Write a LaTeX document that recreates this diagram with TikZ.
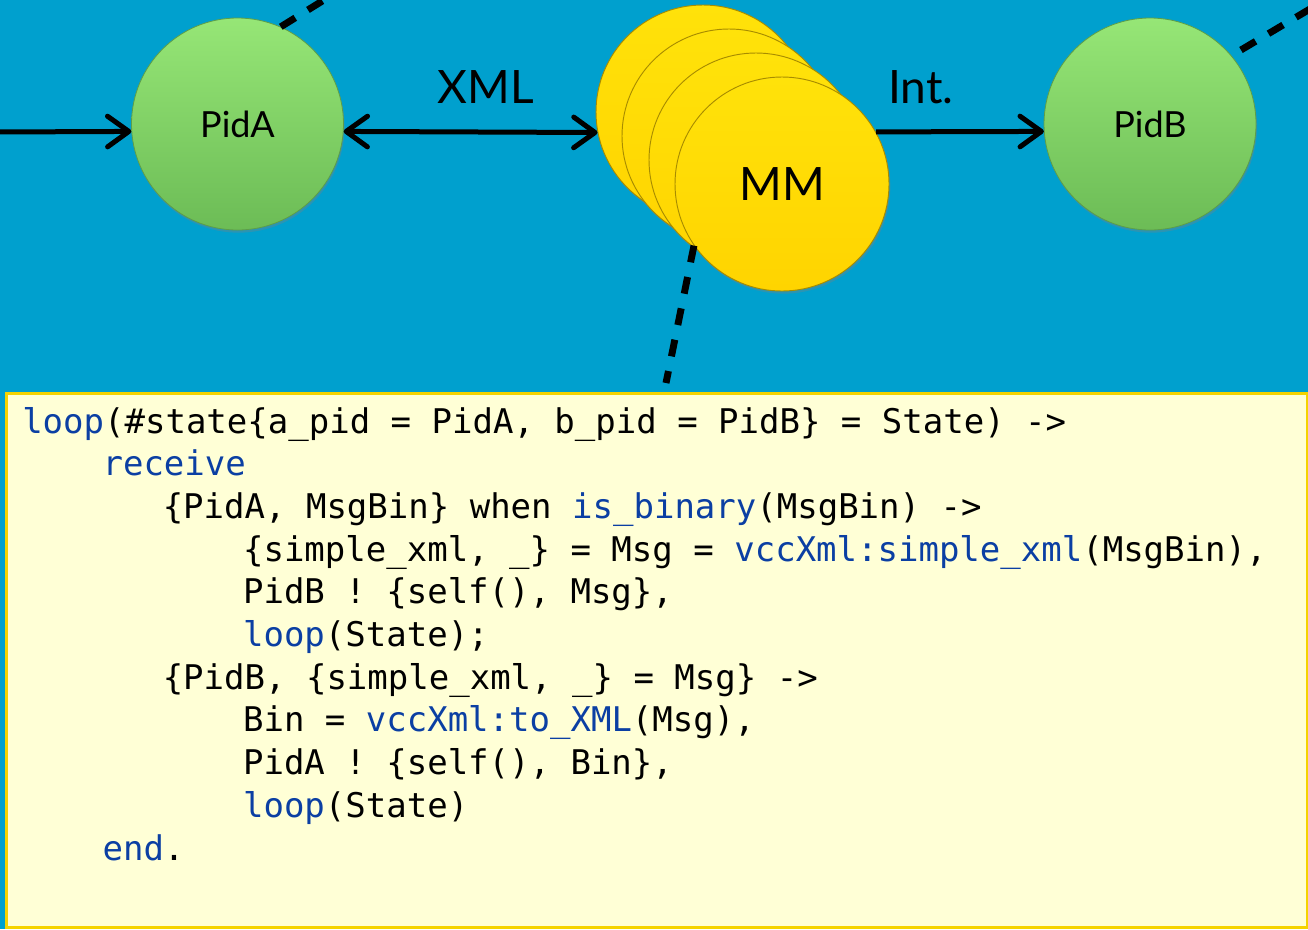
\documentclass[tikz,border=0pt]{standalone}
\usepackage{fontspec}
\usetikzlibrary{arrows.meta,shadows}
\newfontfamily\codefont{DejaVu Sans Mono}
\newfontfamily\labelfont{Lato}
\definecolor{bgblue}{HTML}{00A0CE}
\definecolor{boxfill}{HTML}{FFFFD6}
\definecolor{boxline}{HTML}{F5D300}
\definecolor{kwblue}{HTML}{0B3FA3}
\definecolor{greentop}{HTML}{96E676}
\definecolor{greenbot}{HTML}{6CBC56}
\definecolor{greenrim}{HTML}{5E9E48}
\definecolor{yeltop}{HTML}{FFE20A}
\definecolor{yelbot}{HTML}{FFD400}
\definecolor{yelrim}{HTML}{A88C00}
\newcommand\kwd[1]{\textcolor{kwblue}{#1}}
\tikzset{
  proc/.style={circle, minimum size=159pt, inner sep=0pt, top color=greentop, bottom color=greenbot,
    draw=greenrim, line width=0.6pt,
    drop shadow={opacity=0.35, shadow xshift=0.8pt, shadow yshift=-2pt},
    font=\labelfont\fontsize{27pt}{30pt}\selectfont},
  mmproc/.style={circle, minimum size=160.5pt, inner sep=0pt, top color=yeltop, bottom color=yelbot,
    draw=yelrim, line width=0.7pt,
    drop shadow={opacity=0.35, shadow xshift=1pt, shadow yshift=-2pt},
    font=\labelfont\fontsize{34.5pt}{36pt}\selectfont},
  biglabel/.style={anchor=base, inner sep=0pt, font=\labelfont\fontsize{34.5pt}{36pt}\selectfont},
  tipb/.tip={Straight Barb[length=16pt,width=23pt,round]},
  msgarrow/.style={line width=3.75pt, black},
  dashlink/.style={line width=5.2pt, black, dash pattern=on 12.75pt off 11.25pt},
  codeline/.style={anchor=base west, inner sep=0pt,
    font=\codefont\fontsize{25.5pt}{30pt}\selectfont\frenchspacing}
}
\begin{document}
\begin{tikzpicture}[x=0.75pt,y=-0.75pt]
\useasboundingbox (0,0) rectangle (1308,929);
\clip (0,0) rectangle (1308,929);
\fill[bgblue] (0,0) rectangle (1308,929);

% code box
\node[draw=boxline, fill=boxfill, line width=2.25pt, rectangle, inner sep=0pt, anchor=north west,
  minimum width=975.75pt, minimum height=400.5pt] (code) at (5,392) {};

% processes
\node[proc] (pidA) at (237.5,124) {PidA};
\node[proc] (pidB) at (1150,124) {PidB};
\node[mmproc] (mm1) at (703,112) {};
\node[mmproc] (mm2) at (729,136) {};
\node[mmproc] (mm3) at (756,160) {};
\node[mmproc] (mm4) at (782,184) {MM};

% dashed links
\coordinate (dA) at (340,-10);
\coordinate (dB) at (1320,3);
\coordinate (dM) at (666,383);
\draw[dashlink] (pidA.66) -- (dA);
\draw[dashlink, dash phase=15.75pt] (pidB.40) -- (dB);
\draw[dashlink] (mm4.215) -- (dM);

% message arrows
\coordinate (inL) at (-5,132);
\draw[msgarrow, -tipb] (inL) -- (pidA.184);
\draw[msgarrow, tipb-tipb] (pidA.-4) -- (mm1.191);
\draw[msgarrow, -tipb] (mm4.29) -- (pidB.184);

\node[biglabel] (xml) at (486,103) {XML};
\node[biglabel] (int) at (921,103) {Int.};

% code
\node[codeline] (c1) at (22,433) {\kwd{loop}(\#state\{a\_pid = PidA, b\_pid = PidB\} = State) ->};
\node[codeline] (c2) at (102.3,475.7) {\kwd{receive}};
\node[codeline] (c3) at (162.5,518.4) {\{PidA, MsgBin\} when \kwd{is\_binary}(MsgBin) ->};
\node[codeline] (c4) at (242.8,561.1) {\{simple\_xml, \_\} = Msg = \kwd{vccXml:simple\_xml}(MsgBin),};
\node[codeline] (c5) at (242.8,603.8) {PidB ! \{self(), Msg\},};
\node[codeline] (c6) at (242.8,646.5) {\kwd{loop}(State);};
\node[codeline] (c7) at (162.5,689.2) {\{PidB, \{simple\_xml, \_\} = Msg\} ->};
\node[codeline] (c8) at (242.8,731.9) {Bin = \kwd{vccXml:to\_XML}(Msg),};
\node[codeline] (c9) at (242.8,774.6) {PidA ! \{self(), Bin\},};
\node[codeline] (c10) at (242.8,817.3) {\kwd{loop}(State)};
\node[codeline] (c11) at (102.3,860) {\kwd{end}.};
\end{tikzpicture}
\end{document}
